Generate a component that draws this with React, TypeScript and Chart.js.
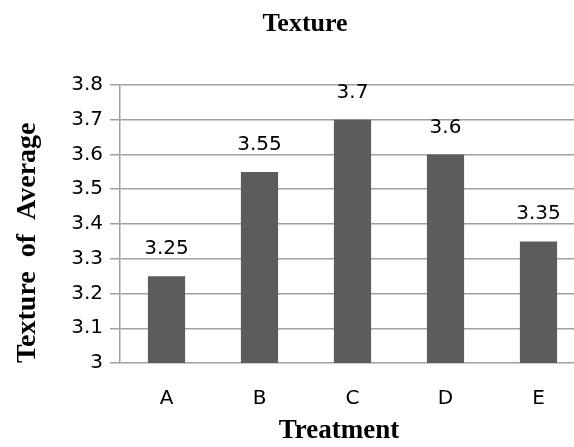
import { useEffect, useRef } from "react";
import { Chart, registerables } from "chart.js";

Chart.register(...registerables);

// Average texture score per treatment
const treatments = ["A", "B", "C", "D", "E"];
const averageTexture = [3.25, 3.55, 3.7, 3.6, 3.35];
const yTickValues = [3, 3.1, 3.2, 3.3, 3.4, 3.5, 3.6, 3.7, 3.8];

const SANS = '"DejaVu Sans", sans-serif';
const SERIF = '"Liberation Serif", "Times New Roman", serif';
const GRID = "#a0a0a0";

// Writes each bar's value above it
const valueLabels = {
  id: "valueLabels",
  afterDatasetsDraw(chart: any) {
    const ctx = chart.ctx;
    const meta = chart.getDatasetMeta(0);
    ctx.save();
    ctx.font = `20px ${SANS}`;
    ctx.fillStyle = "#000";
    ctx.textAlign = "center";
    ctx.textBaseline = "alphabetic";
    meta.data.forEach((bar: any, i: number) => {
      ctx.fillText(String(averageTexture[i]), bar.x, bar.y - 22);
    });
    ctx.restore();
  },
};

export default function App() {
  const canvasRef = useRef<HTMLCanvasElement | null>(null);

  useEffect(() => {
    if (!canvasRef.current) return;
    const chart = new Chart(canvasRef.current, {
      type: "bar",
      data: {
        labels: treatments,
        datasets: [
          {
            data: averageTexture,
            backgroundColor: "#5c5c5c",
            borderWidth: 0,
            barPercentage: 0.4,
            categoryPercentage: 1,
          },
        ],
      },
      options: {
        animation: false,
        responsive: false,
        devicePixelRatio: 1,
        layout: { padding: { left: 25, right: 25, top: 0, bottom: 0 } },
        plugins: {
          legend: { display: false },
          tooltip: { enabled: false },
          title: {
            display: true,
            text: "Texture",
            color: "#000",
            font: { family: SERIF, size: 26, weight: "bold" },
            padding: { top: 8.5, bottom: 45.3 },
          },
        },
        scales: {
          x: {
            grid: { display: false, drawTicks: false },
            border: { display: false },
            ticks: {
              color: "#000",
              font: { family: SANS, size: 20 },
              padding: 24,
            },
            title: {
              display: true,
              text: "Treatment    ",
              color: "#000",
              font: { family: SERIF, size: 27, weight: "bold" },
              padding: { top: 0, bottom: 0 },
            },
            afterFit: (scale: any) => {
              scale.height = 84;
            },
          },
          y: {
            min: 3,
            max: 3.8,
            afterBuildTicks: (scale: any) => {
              scale.ticks = yTickValues.map((v) => ({ value: v }));
            },
            grid: {
              color: GRID,
              lineWidth: 1.5,
              tickLength: 10,
              drawTicks: true,
            },
            border: { display: true, color: GRID, width: 1.5 },
            ticks: {
              color: "#000",
              font: { family: SANS, size: 20 },
              padding: 7,
              callback: (v: any) => String(Math.round(Number(v) * 10) / 10),
            },
            title: {
              display: true,
              text: "Texture  of  Average",
              align: "start",
              color: "#000",
              font: { family: SERIF, size: 28, weight: "bold" },
              padding: { top: -14, bottom: 0 },
            },
            afterFit: (scale: any) => {
              scale.width = 95;
            },
          },
        },
      },
      plugins: [valueLabels],
    });
    return () => chart.destroy();
  }, []);

  return (
    <div
      style={{
        position: "fixed",
        left: 0,
        top: 0,
        width: 574,
        height: 447,
        overflow: "hidden",
        background: "#fff",
      }}
    >
      <canvas
        ref={canvasRef}
        width={610}
        height={447}
        style={{ width: 610, height: 447, display: "block" }}
      />
    </div>
  );
}
